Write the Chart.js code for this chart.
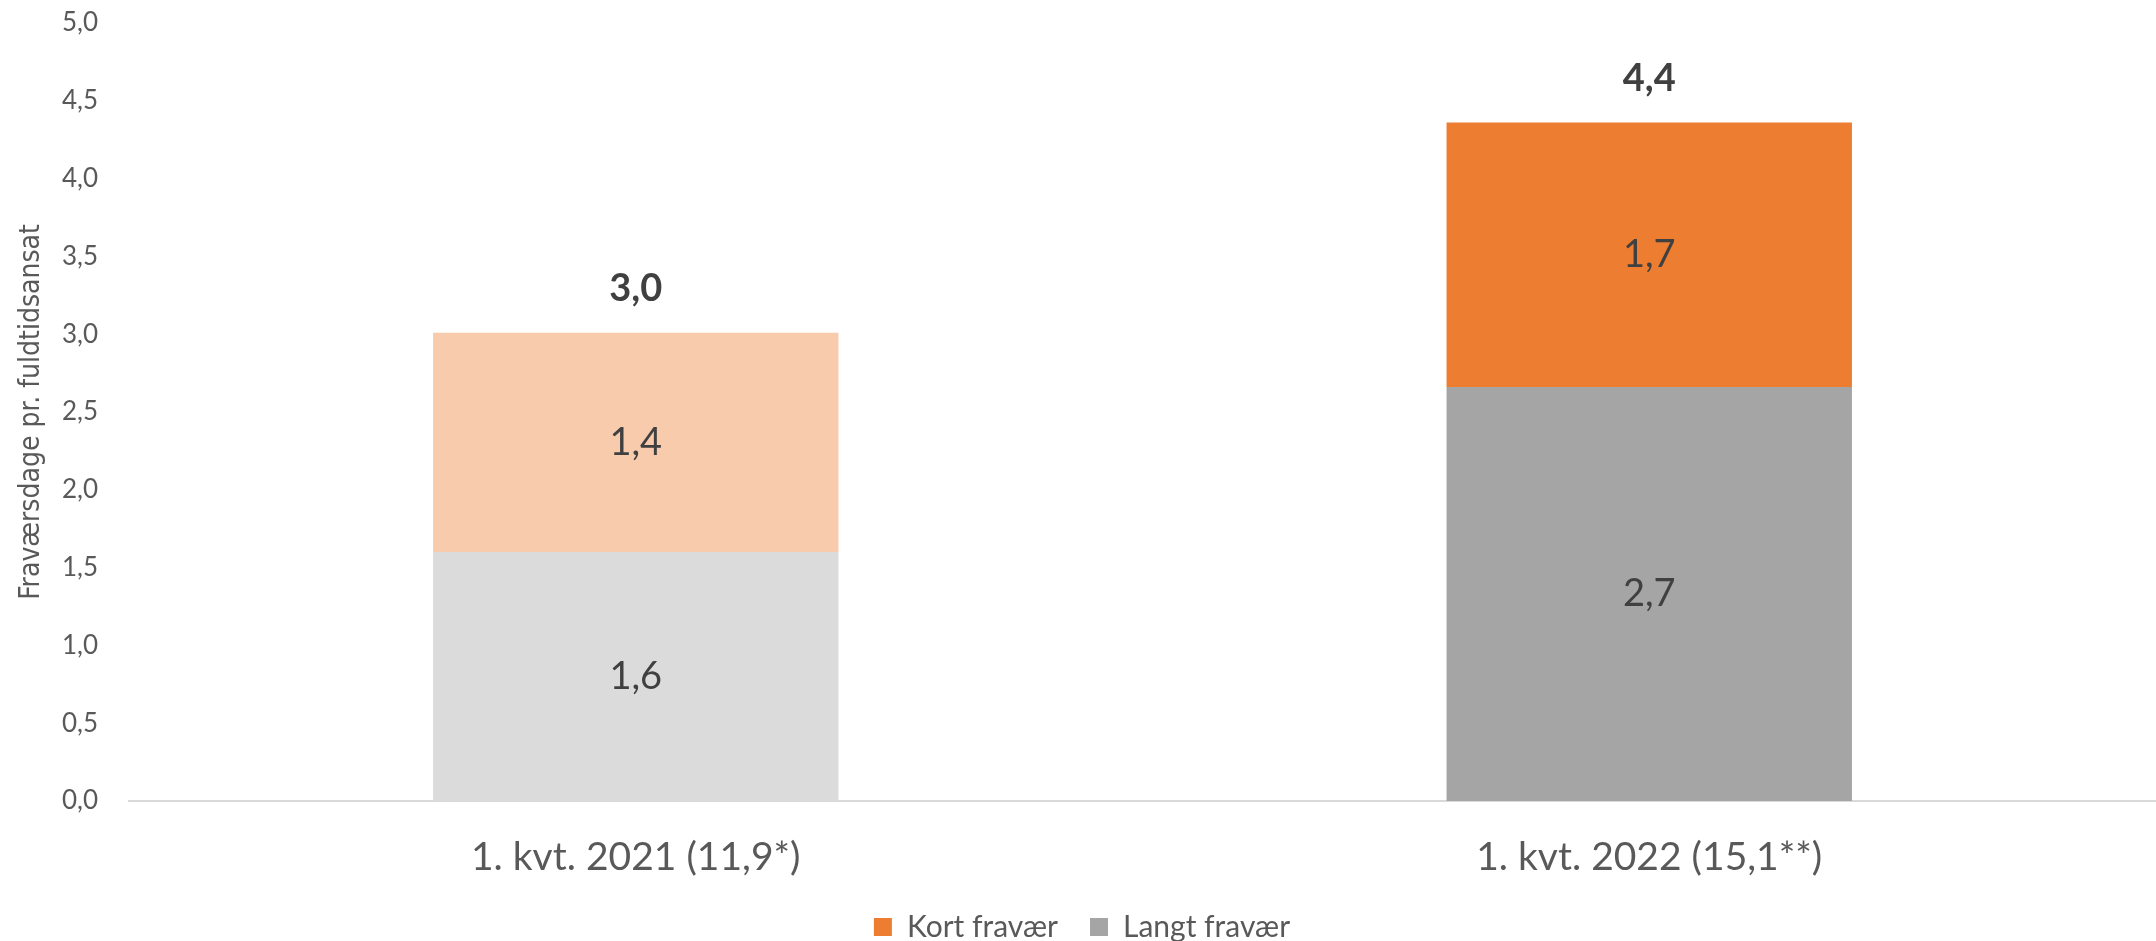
<!DOCTYPE html>
<html>
<head>
<meta charset="utf-8">
<script src="https://cdn.jsdelivr.net/npm/chart.js@4"></script>
<style>
  body { margin: 0; background: #fff; }
</style>
</head>
<body>
<canvas id="myChart1" width="2156" height="941"></canvas>
<script>
let categories = ['1. kvt. 2021 (11,9*)', '1. kvt. 2022 (15,1**)']
let langtFravaer = [1.6, 2.66]
let kortFravaer = [1.41, 1.7]
let yTicks = [0, 0.5, 1, 1.5, 2, 2.5, 3, 3.5, 4, 4.5, 5]

let fmt = v => v.toFixed(1).replace('.', ',')

// labels inside the bars + bold totals above
const barLabels = {
  id: 'barLabels',
  afterDatasetsDraw(chart) {
    const c = chart.ctx
    c.save()
    c.textAlign = 'center'
    c.textBaseline = 'middle'
    c.fillStyle = '#404040'
    c.font = '38px Lato'
    chart.data.datasets.forEach((ds, i) => {
      chart.getDatasetMeta(i).data.forEach((bar, j) => {
        c.fillText(fmt(ds.data[j]), bar.x, (bar.y + bar.base) / 2)
      })
    })
    c.font = 'bold 38px Lato'
    let top = chart.getDatasetMeta(chart.data.datasets.length - 1).data
    top.forEach((bar, j) => {
      let total = langtFravaer[j] + kortFravaer[j]
      c.fillText(fmt(total), bar.x, bar.y - 44)
    })
    c.restore()
  }
}

var ctx1 = document.getElementById('myChart1')

new Chart(ctx1, {
  type: 'bar',
  data: {
    labels: categories,
    datasets: [{
      label: 'Langt fravær',
      data: langtFravaer,
      backgroundColor: ['#DBDBDB', '#A5A5A5'],
      barPercentage: 0.4,
      categoryPercentage: 1
    }, {
      label: 'Kort fravær',
      data: kortFravaer,
      backgroundColor: ['#F8CBAD', '#ED7D31'],
      barPercentage: 0.4,
      categoryPercentage: 1
    }]
  },
  options: {
    responsive: false,
    animation: false,
    layout: { padding: { top: 23, right: -8, left: 0, bottom: -11 } },
    plugins: {
      tooltip: { enabled: false },
      legend: {
        position: 'bottom',
        labels: {
          boxWidth: 18,
          boxHeight: 18,
          padding: 32,
          color: '#595959',
          font: { family: 'Lato', size: 30 },
          generateLabels: chart => [
            { text: 'Kort fravær', fillStyle: '#ED7D31', strokeStyle: '#ED7D31', lineWidth: 0, datasetIndex: 1, hidden: false, fontColor: '#595959' },
            { text: 'Langt fravær', fillStyle: '#A5A5A5', strokeStyle: '#A5A5A5', lineWidth: 0, datasetIndex: 0, hidden: false, fontColor: '#595959' }
          ]
        }
      }
    },
    scales: {
      x: {
        stacked: true,
        grid: { display: false, drawTicks: false },
        border: { color: '#D9D9D9', width: 2 },
        ticks: {
          color: '#595959',
          padding: 33,
          font: { family: 'Lato', size: 39 }
        },
        afterFit: s => { s.height = 79 }
      },
      y: {
        stacked: true,
        min: 0,
        max: 5,
        grid: { display: false, drawTicks: false },
        border: { display: false },
        afterBuildTicks: s => { s.ticks = yTicks.map(v => ({ value: v })) },
        ticks: {
          color: '#595959',
          padding: 31,
          font: { family: 'Lato', size: 26 },
          callback: v => fmt(v)
        },
        title: {
          display: true,
          text: 'Fraværsdage pr. fuldtidsansat',
          color: '#595959',
          font: { family: "'DejaVu Sans Condensed', Lato", size: 28 },
          padding: { top: 15, bottom: 0 }
        },
        afterFit: s => {
          s.width = 129
          s.paddingTop = 0
          s.paddingBottom = 0
        }
      }
    }
  },
  plugins: [barLabels]
})
</script>
</body>
</html>
